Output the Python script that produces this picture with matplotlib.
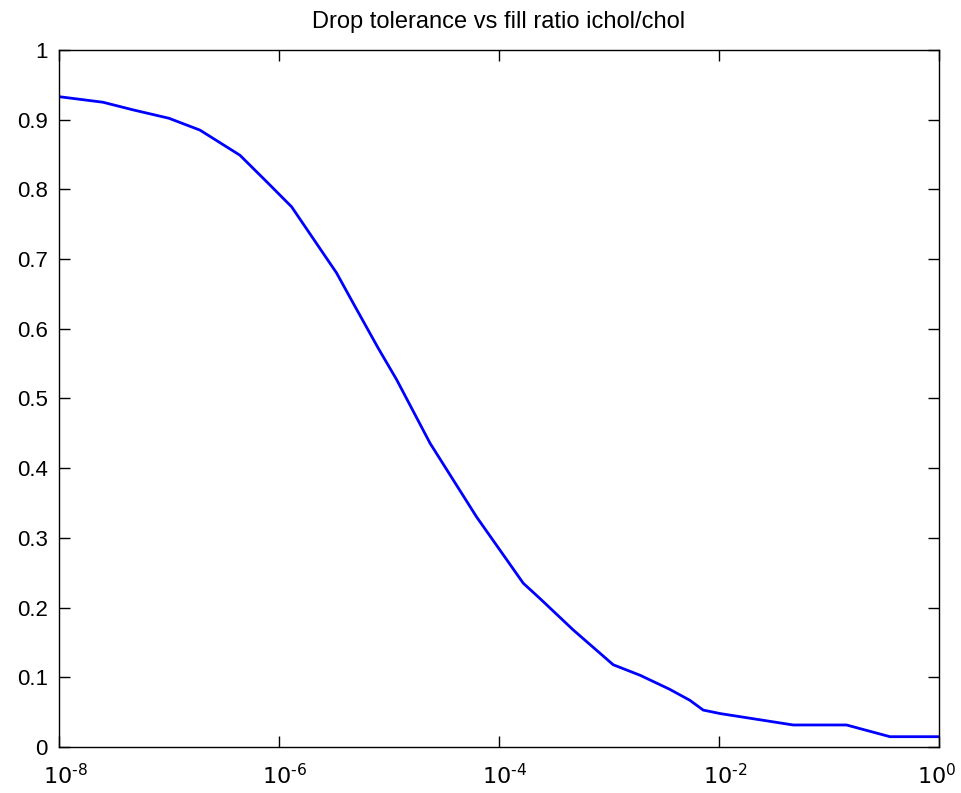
import matplotlib
matplotlib.use("Agg")
import matplotlib.pyplot as plt
import matplotlib.transforms as mtransforms
from matplotlib.ticker import FixedLocator, NullLocator
import numpy as np

plt.rcParams['font.family'] = ['Liberation Sans', 'DejaVu Sans']

# drop tolerance (log10) and fill ratio
log_tol = [-8.0, -7.6, -7.325, -7.0, -6.718, -6.355, -6.112, -5.885, -5.476,
           -5.34, -5.097, -4.93, -4.627, -4.203, -3.779, -3.627, -3.325,
           -2.961, -2.718, -2.45, -2.264, -2.143, -1.99, -1.325, -0.84, -0.445, 0.0]
fill_ratio = [0.933, 0.925, 0.914, 0.902, 0.885, 0.849, 0.811, 0.775, 0.680,
              0.641, 0.572, 0.527, 0.436, 0.330, 0.235, 0.213, 0.168,
              0.118, 0.103, 0.083, 0.067, 0.053, 0.048, 0.0316, 0.0316, 0.0148, 0.0148]

x_ticks = [1e-8, 1e-6, 1e-4, 1e-2, 1e0]
x_labels = [r'$10^{\text{-8}}$', r'$10^{\text{-6}}$', r'$10^{\text{-4}}$',
            r'$10^{\text{-2}}$', r'$10^{0}$']
y_ticks = [0, 0.1, 0.2, 0.3, 0.4, 0.5, 0.6, 0.7, 0.8, 0.9, 1]
y_labels = ['0', '0.1', '0.2', '0.3', '0.4', '0.5', '0.6', '0.7', '0.8', '0.9', '1']

fig = plt.figure(figsize=(9.62, 7.93), dpi=100)
ax = fig.add_axes([0.0613, 0.058, 0.9147, 0.879])

tol = 10 ** np.array(log_tol)
ax.plot(tol, fill_ratio, color='#0000ff', linewidth=2)

ax.set_xscale('log')
ax.set_xlim(1e-8, 1)
ax.set_ylim(0, 1)
ax.xaxis.set_major_locator(FixedLocator(x_ticks))
ax.xaxis.set_minor_locator(NullLocator())
ax.set_xticklabels(x_labels)
ax.set_yticks(y_ticks)
ax.set_yticklabels(y_labels)

ax.tick_params(direction='in', length=8, width=1, top=True, right=True,
               labelsize=16, colors='black')
ax.tick_params(axis='x', pad=12)
ax.tick_params(axis='y', pad=8)
for s in ax.spines.values():
    s.set_linewidth(1)

# MATLAB puts the "10" under the tick, exponent hangs to the right
labs = ax.get_xticklabels()
for i, lab in enumerate(labs):
    dx = 6 if i < len(labs) - 1 else -2
    shift = mtransforms.ScaledTranslation(dx / 100, 0, fig.dpi_scale_trans)
    lab.set_transform(lab.get_transform() + shift)

ax.set_title('Drop tolerance vs fill ratio ichol/chol', fontsize=17, pad=16)

fig.savefig('out.png', dpi=100)
